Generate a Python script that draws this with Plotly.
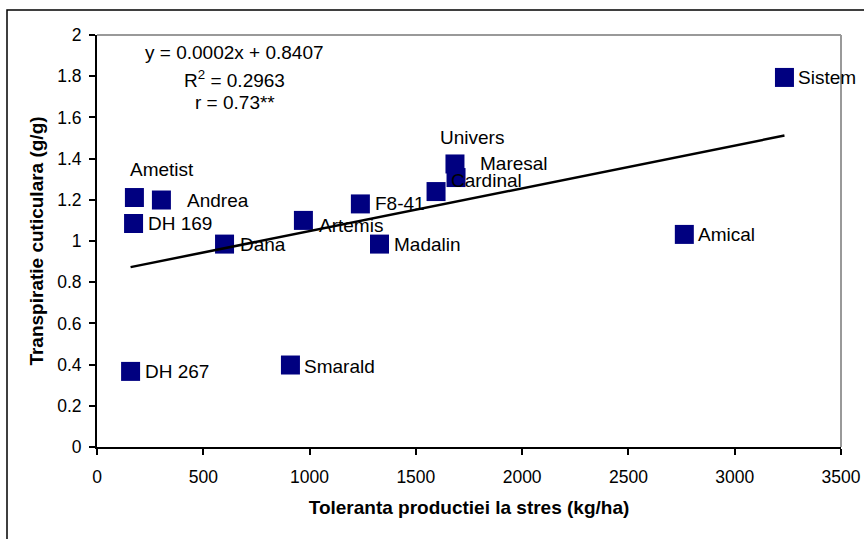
import numpy as np
import plotly.graph_objects as go

# ---- data ----
varieties = ["Sistem", "Maresal", "Cardinal", "Univers", "Ametist", "Andrea", "DH 169",
             "Dana", "Artemis", "F8-41", "Madalin", "Amical", "DH 267", "Smarald"]
tolerance = [3234, 1684, 1689, 1595, 176, 303, 172, 600, 971, 1239, 1329, 2763, 158, 910]
transpiration = [1.794, 1.374, 1.308, 1.240, 1.211, 1.199, 1.085, 0.985, 1.100, 1.180,
                 0.985, 1.032, 0.367, 0.398]
x_ticks = [0, 500, 1000, 1500, 2000, 2500, 3000, 3500]
y_ticks = [0, 0.2, 0.4, 0.6, 0.8, 1, 1.2, 1.4, 1.6, 1.8, 2]
y_tick_text = ["0", "0.2", "0.4", "0.6", "0.8", "1", "1.2", "1.4", "1.6", "1.8", "2"]

# label offsets (pixels) relative to each point: (xshift, yshift)
label_offsets = {
    "Sistem": (12, 0), "Maresal": (23, 0), "Cardinal": (-7, -3),
    "Univers": (2, 54), "Ametist": (-6, 28), "Andrea": (24, 0),
    "DH 169": (12, 0), "Dana": (13, 0), "Artemis": (14, -5),
    "F8-41": (13, 0), "Madalin": (12, 0), "Amical": (12, 0),
    "DH 267": (12, 0), "Smarald": (12, -1),
}

FONT = "Liberation Sans, Arial, sans-serif"

# linear trend line fitted from the data (as in Excel)
slope, intercept = np.polyfit(tolerance, transpiration, 1)
x_line = np.array([min(tolerance), max(tolerance)])
y_line = slope * x_line + intercept

fig = go.Figure()
fig.add_trace(go.Scatter(
    x=tolerance, y=transpiration, mode="markers",
    marker=dict(symbol="square", size=19, color="#000080", line=dict(width=0)),
    showlegend=False, hoverinfo="text", text=varieties,
))
fig.add_trace(go.Scatter(
    x=x_line, y=y_line, mode="lines", line=dict(color="black", width=2.5),
    showlegend=False, hoverinfo="skip",
))

annotations = []
for name, xv, yv in zip(varieties, tolerance, transpiration):
    xs, ys = label_offsets[name]
    annotations.append(dict(
        x=xv, y=yv, xref="x", yref="y", text=name, showarrow=False,
        xanchor="left", yanchor="middle", xshift=xs, yshift=ys,
        font=dict(family=FONT, size=19, color="black"),
    ))

eq_lines = ["y = 0.0002x + 0.8407", "R<sup>2</sup> = 0.2963", "r = 0.73**"]
eq_y = [0.958, 0.893, 0.835]
for t, yy in zip(eq_lines, eq_y):
    annotations.append(dict(
        x=0.185, y=yy, xref="paper", yref="paper", text=t, showarrow=False,
        xanchor="center", yanchor="middle",
        font=dict(family=FONT, size=19, color="black"),
    ))

fig.update_layout(
    width=864, height=539,
    margin=dict(l=97, r=23, t=35, b=92, autoexpand=False),
    paper_bgcolor="white", plot_bgcolor="white",
    annotations=annotations,
    shapes=[
        # outer chart border (top and left visible)
        dict(type="rect", xref="paper", yref="paper",
             x0=-90 / 744, x1=900 / 744, y0=-140 / 412, y1=437 / 412,
             line=dict(color="black", width=1.5), fillcolor="rgba(0,0,0,0)", layer="above"),
        # plot-area frame (top and right, grey)
        dict(type="line", xref="paper", yref="paper", x0=0, x1=1, y0=1, y1=1,
             line=dict(color="#999999", width=2)),
        dict(type="line", xref="paper", yref="paper", x0=1, x1=1, y0=0, y1=1,
             line=dict(color="#999999", width=2)),
    ],
    xaxis=dict(
        range=[0, 3500], tickvals=x_ticks, ticktext=[str(v) for v in x_ticks],
        showgrid=False, zeroline=False, showline=True, linecolor="black", linewidth=2,
        ticks="outside", ticklen=6, tickwidth=1.5, tickcolor="black",
        ticklabelstandoff=7, automargin=False,
        tickfont=dict(family=FONT, size=17.5, color="black"),
        title=dict(text="<b>Toleranta productiei la stres (kg/ha)</b>",
                   font=dict(family=FONT, size=19, color="black"), standoff=15),
    ),
    yaxis=dict(
        range=[0, 2], tickvals=y_ticks, ticktext=y_tick_text,
        showgrid=False, zeroline=False, showline=True, linecolor="black", linewidth=2,
        ticks="outside", ticklen=6, tickwidth=1.5, tickcolor="black",
        ticklabelstandoff=4, automargin=False,
        tickfont=dict(family=FONT, size=17.5, color="black"),
        title=dict(text="<b>Transpiratie cuticulara (g/g)</b>",
                   font=dict(family=FONT, size=19, color="black"), standoff=9),
    ),
)

fig.write_html("out.html", config={"displayModeBar": False},
               post_script="document.body.style.margin='0';")
